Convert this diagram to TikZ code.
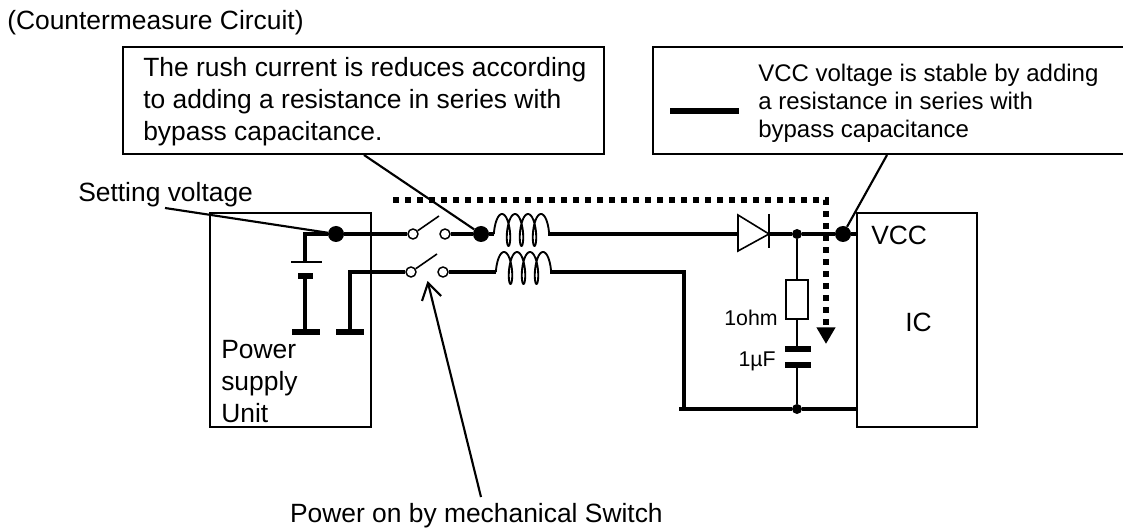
\documentclass[tikz,border=0pt]{standalone}
\usepackage{fontspec}
\setmainfont{Liberation Sans}
\usetikzlibrary{
	calc,
	arrows.meta,
	positioning
	}
\tikzset{
	lbl/.style={inner sep=0pt, align=left, font={\fontsize{19.8pt}{24}\selectfont}},
	lblb/.style={inner sep=0pt, align=left, font={\fontsize{18pt}{21.2}\selectfont}},
	lblc/.style={inner sep=0pt, align=left, font={\fontsize{16pt}{20}\selectfont}},
	callout/.style={draw, line width=1.6pt, fill=white, inner sep=0pt},
	unit/.style={draw, line width=1.2pt, inner sep=0pt},
	wire/.style={line width=2.5pt},
	thinwire/.style={line width=2pt},
	leader/.style={line width=1.6pt},
	plate/.style={line width=4.5pt},
	dotbig/.style={circle, fill=black, inner sep=0pt, minimum size=12pt},
	dotsmall/.style={circle, fill=black, inner sep=0pt, minimum size=7.5pt},
	term/.style={circle, draw, line width=1.1pt, fill=white, inner sep=0pt, minimum size=7.5pt},
	coil/.pic={\draw[line width=1.4pt] plot[domain=-105:1185, samples=140, smooth] ({\x*13/360+4.5*sin(\x)},{-16*cos(\x)});}
}
\begin{document}
\begin{tikzpicture}[x=0.75pt, y=-0.75pt]
                \clip (0,0) rectangle (1123,530);
                \node (title) [lbl, anchor=west] at (7,23) {(Countermeasure Circuit)};
                \node (boxa) [callout, minimum width=360.75pt, minimum height=80pt] at (363.5,100.5) {};
                \node (texta) [lbl, anchor=west] at (143,102) {The rush current is reduces according\\to adding a resistance in series with\\bypass capacitance.};
                \node (boxb) [callout, minimum width=361.5pt, minimum height=80pt] at (894,100.5) {};
                \node (textb) [lblb, anchor=west] at (758,103.5) {VCC voltage is stable by adding\\a resistance in series with\\bypass capacitance};
                \coordinate (bara) at (670,111);
                \coordinate (barb) at (739,111);
                \draw[line width=4.5pt] (bara) -- (barb);
                \node (setv) [lbl, anchor=west] at (78,195) {Setting voltage};
                \node (psu) [unit, minimum width=120.75pt, minimum height=160.5pt] at (290.5,320) {};
                \node (psulbl) [lbl, anchor=west] at (221,382) {Power\\supply\\Unit};
                \node (ic) [unit, minimum width=90pt, minimum height=160.5pt] at (917,320) {};
                \node (vcc) [lbl, anchor=west] at (871,235.5) {VCC};
                \node (iclbl) [lbl, anchor=west] at (905,322) {IC};
                \node (onsw) [lbl, anchor=east] at (663,516) {Power on by mechanical Switch};
                \node (dota) [dotbig] at (336,234) {};
                \node (dotb) [dotbig] at (481,234) {};
                \node (dotc) [dotsmall] at (797,234) {};
                \node (dotd) [dotbig] at (843,234) {};
                \node (dote) [dotsmall] at (797,409) {};
                \node (swa) [term] at (413,234) {};
                \node (swb) [term] at (445,234) {};
                \node (swc) [term] at (411,272) {};
                \node (swd) [term] at (443,272) {};
                \coordinate (swtipa) at (439,216);
                \coordinate (swtipb) at (437,254);
                \draw[line width=1.2pt] (swa) -- (swtipa);
                \draw[line width=1.2pt] (swc) -- (swtipb);
                \pic at (502,230) {coil};
                \pic at (504,268) {coil};
                \coordinate (corna) at (305,234);
                \coordinate (capa) at (305,262);
                \coordinate (capb) at (305,276);
                \coordinate (gnda) at (305,332);
                \coordinate (gndb) at (350,332);
                \coordinate (cornb) at (350,272);
                \draw[wire] (capa) -- (corna) -- (dota);
                \draw[wire] (dota) -- (swa);
                \draw[wire] (swb) -- (dotb);
                \draw[wire] (dotb) -- (494,234);
                \draw[line width=1.2pt] (291,262) -- (capa) -- (322,262);
                \draw[line width=4pt] (298,276) -- (capb) -- (313,276);
                \draw[wire] (capb) -- (gnda);
                \draw[line width=5.2pt] (292,332) -- (gnda) -- (320,332);
                \draw[wire] (gndb) -- (cornb) -- (swc);
                \draw[line width=5.2pt] (336,332) -- (gndb) -- (364,332);
                \coordinate (dia) at (738,234);
                \draw[wire] (548,234) -- (dia);
                \draw[line width=1.2pt, fill=white] (738,215) -- (769,234) -- (738,251) -- cycle;
                \draw[line width=2pt] (769,214) -- (769,248);
                \draw[wire] (769,234) -- (dotc) -- (dotd) -- (dotd -| ic.west);
                \draw[wire] (swd) -- (496,272);
                \coordinate (cornc) at (684,272);
                \coordinate (cornd) at (684,409);
                \draw[wire] (550,272) -- (cornc) -- (cornd);
                \draw[wire] (679,409) -- (dote) -- (dote -| ic.west);
                \node (res) [draw, line width=1.2pt, fill=white, inner sep=0pt, minimum width=16.5pt, minimum height=29.5pt] at (797,299.5) {};
                \coordinate (capc) at (797,349);
                \coordinate (capd) at (797,365);
                \draw[thinwire] (dotc) -- (res) -- (capc);
                \draw[thinwire] (capd) -- (dote);
                \draw[plate] (785,349) -- (capc) -- (811,349);
                \draw[plate] (785,365) -- (capd) -- (811,365);
                \node (ohm) [lblc, anchor=east] at (778,317.5) {1ohm};
                \node (uf) [lblc, anchor=east] at (776,361) {1µF};
                \coordinate (flowa) at (393,200);
                \coordinate (flowb) at (826,200);
                \coordinate (flowc) at (826,344);
                \draw[line width=4.5pt, dash pattern=on 4.5pt off 4.5pt, -{Triangle[length=12.5pt, width=13.5pt]}] (flowa) -- (flowb) -- (flowc);
                \coordinate (setend) at (165,208);
                \coordinate (onend) at (481,497);
                \coordinate (ontip) at (428,283);
                \draw[leader] (setend) -- (dota);
                \draw[leader] (364,155) -- (dotb);
                \draw[leader] (887,155) -- (dotd);
                \draw[leader] (onend) -- (ontip);
                \draw[leader] (422,301) -- (ontip) -- (441,296);
            \end{tikzpicture}
\end{document}
